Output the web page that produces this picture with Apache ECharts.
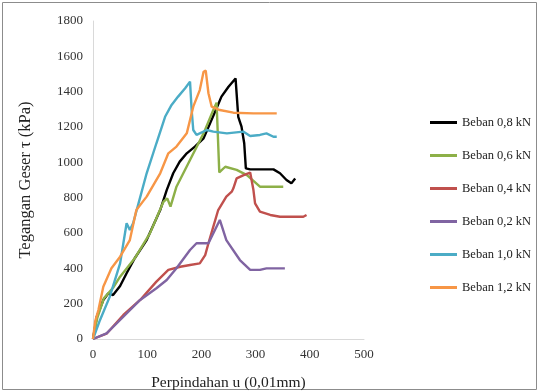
<!DOCTYPE html>
<html>
<head>
<meta charset="utf-8">
<script src="https://cdn.jsdelivr.net/npm/echarts@6/dist/echarts.min.js"></script>
<style>
    html, body { margin: 0; padding: 0; background: #fff; }
    #chart { width: 539px; height: 392px; }
</style>
</head>
<body>
<div id="chart"></div>
<script>
// data: [u (0,01mm), tau (kPa)]
const seriesNames = ['Beban 0,8 kN', 'Beban 0,6 kN', 'Beban 0,4 kN', 'Beban 0,2 kN', 'Beban 1,0 kN', 'Beban 1,2 kN']
const colors = ['#000000', '#8db048', '#c0504d', '#8064a2', '#4bacc6', '#f79646']

const beban08 = [[0,0],[7,126],[19,221],[28,258],[37,249],[50,300],[62,372],[77,457],[99,560],[124,730],[136,843],
    [148,938],[160,1004],[173,1051],[188,1089],[204,1136],[216,1221],[228,1306],[237,1372],[250,1428],[263,1475],
    [268,1258],[274,1202],[279,1108],[282,966],[290,960],[333,960],[345,938],[357,900],[366,881],[373,909]]
const beban06 = [[0,0],[8,120],[20,230],[37,290],[50,353],[77,457],[105,598],[130,777],[137,796],[143,749],[154,862],
    [179,1013],[204,1164],[222,1296],[228,1338],[233,943],[244,975],[265,957],[284,928],[308,862],[351,862]]
const beban04 = [[0,0],[25,30],[56,136],[87,221],[117,325],[139,391],[161,409],[179,419],[197,428],[207,475],[213,542],
    [222,636],[231,730],[246,806],[256,834],[259,853],[265,909],[278,928],[290,942],[296,843],[299,768],[308,721],
    [327,702],[345,692],[388,692],[394,702]]
const beban02 = [[0,0],[25,32],[56,126],[87,221],[117,287],[136,334],[154,400],[179,504],[191,542],[213,542],[234,674],
    [246,560],[271,447],[290,391],[308,391],[320,400],[333,400],[354,400]]
const beban10 = [[0,0],[13,108],[31,240],[50,428],[62,655],[68,617],[74,655],[84,768],[99,938],[117,1108],[133,1258],
    [145,1325],[157,1372],[170,1419],[179,1457],[182,1296],[185,1183],[191,1155],[210,1183],[222,1174],[247,1164],
    [277,1174],[290,1149],[308,1155],[320,1164],[333,1145],[339,1145]]
const beban12 = [[0,0],[4,100],[10,164],[19,296],[34,400],[50,466],[68,560],[80,730],[99,806],[124,938],[139,1051],
    [154,1089],[173,1164],[185,1315],[197,1409],[204,1513],[208,1519],[213,1391],[219,1315],[234,1296],[259,1281],
    [296,1277],[339,1277]]
const allData = [beban08, beban06, beban04, beban02, beban10, beban12]

const serif = 'Liberation Serif'

let option = {
    color: colors,
    textStyle: { fontFamily: serif },
    animation: false,
    grid: {
        left: 93,
        right: 175,
        top: 21,
        bottom: 53,
        outerBoundsMode: 'none'
    },
    graphic: [{
        type: 'rect',
        shape: { x: 2.5, y: 2.5, width: 534, height: 387 },
        style: { fill: 'none', stroke: '#8c8c8c', lineWidth: 1 }
    }],
    legend: {
        orient: 'vertical',
        left: 430,
        top: 115,
        padding: 0,
        itemWidth: 27,
        itemHeight: 3,
        itemGap: 18,
        icon: 'rect',
        textStyle: {
            fontFamily: serif,
            fontSize: 12.5,
            lineHeight: 15,
            color: '#222'
        },
        data: seriesNames
    },
    xAxis: {
        type: 'value',
        min: 0,
        max: 500,
        interval: 100,
        name: 'Perpindahan u (0,01mm)',
        nameLocation: 'middle',
        nameGap: 36,
        nameTextStyle: { fontFamily: serif, fontSize: 15.5, color: '#222' },
        axisLine: { lineStyle: { color: '#d9d9d9', width: 1 } },
        axisTick: { show: false },
        axisLabel: { fontFamily: serif, fontSize: 13, color: '#333', margin: 9 },
        splitLine: { show: false }
    },
    yAxis: {
        type: 'value',
        min: 0,
        max: 1800,
        interval: 200,
        name: 'Tegangan Geser τ (kPa)',
        nameLocation: 'middle',
        nameGap: 59,
        nameTextStyle: { fontFamily: serif, fontSize: 16.5, color: '#222' },
        axisLine: { show: true, lineStyle: { color: '#d9d9d9', width: 1 } },
        axisTick: { show: false },
        axisLabel: {
            fontFamily: serif, fontSize: 13, color: '#333', margin: 10,
            formatter: function(v) { return String(v) }
        },
        splitLine: { show: false }
    },
    series: allData.map(function(d, i) {
        return {
            name: seriesNames[i],
            type: 'line',
            data: d,
            showSymbol: false,
            smooth: false,
            lineStyle: { width: 2.4, color: colors[i] },
            itemStyle: { color: colors[i] }
        }
    })
}

var myChart = echarts.init(document.getElementById('chart'))
myChart.setOption(option)
</script>
</body>
</html>
